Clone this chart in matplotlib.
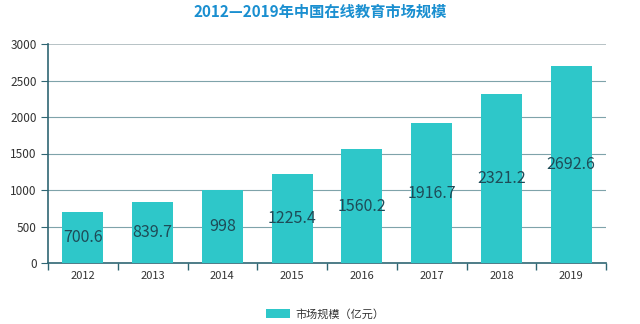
import matplotlib.pyplot as plt
import numpy as np

plt.rcParams['font.family'] = ['Noto Sans CJK SC', 'DejaVu Sans']

years = ['2012', '2013', '2014', '2015', '2016', '2017', '2018', '2019']
market = [700.6, 839.7, 998, 1225.4, 1560.2, 1916.7, 2321.2, 2692.6]
labels = ['700.6', '839.7', '998', '1225.4', '1560.2', '1916.7', '2321.2', '2692.6']
yticks = [0, 500, 1000, 1500, 2000, 2500, 3000]

fig = plt.figure(figsize=(6.4, 3.24), dpi=100)
ax = fig.add_axes([48 / 640, 61 / 324, 558 / 640, 219 / 324])

x = np.arange(len(years))
bars = ax.bar(x, market, width=0.59, color='#2ec7c9', zorder=3, label='市场规模（亿元）')
for xi, v, t in zip(x, market, labels):
    ax.text(xi, v / 2, t, ha='center', va='center', fontsize=11.5, color='#1e4b57', zorder=4)

ax.set_xlim(-0.5, len(years) - 0.5)
ax.set_ylim(0, 3000)
ax.set_yticks(yticks)
ax.set_xticks(x)
ax.set_xticklabels(years)
ax.set_xticks(np.arange(-0.5, len(years), 1), minor=True)
ax.tick_params(axis='x', which='major', length=0, labelsize=8, colors='#333333', pad=6)
ax.tick_params(axis='x', which='minor', length=5, color='#2f6673', width=1)
ax.tick_params(axis='y', length=5, color='#2f6673', labelsize=8.5, labelcolor='#333333', pad=3)

for yv in yticks[1:-1]:
    ax.axhline(yv, color='#7fa3aa', linewidth=0.8, zorder=0)
ax.axhline(yticks[-1], color='#aab8bb', linewidth=1.2, zorder=0)

for s in ['top', 'right']:
    ax.spines[s].set_visible(False)
for s in ['left', 'bottom']:
    ax.spines[s].set_color('#2f6673')
    ax.spines[s].set_linewidth(1.2)

fig.text(0.5, 1 - 12 / 324, '2012—2019年中国在线教育市场规模', ha='center', va='center',
         fontsize=11, fontweight='bold', color='#1a8fd0')

fig.legend(handles=[bars], loc='center', bbox_to_anchor=(0.508, 1 - 314 / 324), frameon=False,
           fontsize=8, handlelength=2.2, handleheight=0.9, handletextpad=0.5,
           labelcolor='#333333')

fig.savefig('out.png', dpi=100)
